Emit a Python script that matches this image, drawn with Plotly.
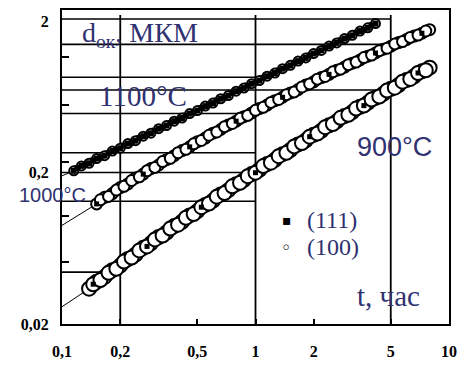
import plotly.graph_objects as go

# ---------------- data ----------------
# horizontal rules of the printed grid (thickness, um) and how far right they run (time, h)
GRID_D = [2.06, 1.40, 0.85, 0.70, 0.49, 0.27, 0.20, 0.129, 0.044]
GRID_T_END = [5, 5, 1, 5, 1, 1, 1, 1, 0.2]
# vertical rules (time, h)
GRID_T = [0.2, 1, 5]
GRID_D_TOP = 2.19

X_TICKS = [0.1, 0.2, 0.5, 1, 2, 5, 10]
X_TICKTEXT = ["0,1", "0,2", "0,5", "1", "2", "5", "10"]
Y_TICKS = [0.02, 0.2, 2]
Y_TICKTEXT = ["0,02", "0,2", "2"]
Y_MINOR = [0.051, 0.103, 0.234, 0.56, 1.16]

# ---- 1100 C ----
t_1100 = [0.115, 0.126, 0.138, 0.151, 0.166, 0.182, 0.200, 0.219, 0.240, 0.263,
          0.288, 0.316, 0.347, 0.380, 0.417, 0.457, 0.501, 0.550, 0.603, 0.661,
          0.724, 0.794, 0.871, 0.955, 1.047, 1.148, 1.259, 1.380, 1.514, 1.660,
          1.820, 1.995, 2.188, 2.399, 2.630, 2.884, 3.162, 3.467, 3.802, 4.169]
d_1100 = [0.205, 0.221, 0.230, 0.247, 0.258, 0.277, 0.289, 0.310, 0.324, 0.347,
          0.363, 0.389, 0.408, 0.436, 0.457, 0.489, 0.512, 0.548, 0.574, 0.613,
          0.643, 0.688, 0.721, 0.770, 0.808, 0.863, 0.906, 0.967, 1.018, 1.086,
          1.140, 1.218, 1.278, 1.364, 1.432, 1.530, 1.606, 1.714, 1.800, 1.920]
t_1100_111 = [0.120, 0.132, 0.145, 0.158, 0.174, 0.191, 0.209, 0.229, 0.251, 0.275,
              0.302, 0.331, 0.363, 0.398, 0.437, 0.479, 0.525, 0.575, 0.631, 0.692,
              0.759, 0.832, 0.912, 1.000, 1.096, 1.202, 1.318, 1.445, 1.585, 1.738,
              1.905, 2.089, 2.291, 2.512, 2.754, 3.020, 3.311, 3.631, 3.981]
d_1100_111 = [0.214, 0.224, 0.240, 0.251, 0.269, 0.281, 0.301, 0.316, 0.338, 0.354,
              0.378, 0.397, 0.424, 0.445, 0.475, 0.498, 0.533, 0.558, 0.597, 0.626,
              0.669, 0.702, 0.750, 0.787, 0.841, 0.882, 0.943, 0.989, 1.057, 1.109,
              1.185, 1.243, 1.328, 1.393, 1.489, 1.562, 1.669, 1.751, 1.871]

# ---- 1000 C ----
t_1000 = [0.151, 0.166, 0.182, 0.200, 0.219, 0.240, 0.263, 0.288, 0.316, 0.347,
          0.380, 0.417, 0.457, 0.501, 0.550, 0.603, 0.661, 0.724, 0.794, 0.871,
          0.955, 1.047, 1.148, 1.259, 1.380, 1.514, 1.660, 1.820, 1.995, 2.188,
          2.399, 2.630, 2.884, 3.162, 3.467, 3.802, 4.169, 4.571, 5.012, 5.495,
          6.026, 6.607, 7.244, 7.943]
d_1000 = [0.124, 0.137, 0.145, 0.159, 0.168, 0.184, 0.195, 0.212, 0.224, 0.243,
          0.258, 0.279, 0.295, 0.319, 0.337, 0.363, 0.384, 0.412, 0.436, 0.467,
          0.494, 0.528, 0.557, 0.595, 0.627, 0.669, 0.705, 0.754, 0.793, 0.846,
          0.888, 0.945, 0.992, 1.053, 1.104, 1.171, 1.228, 1.300, 1.362, 1.438,
          1.505, 1.588, 1.658, 1.750]
t_1000_b = [0.158, 0.174, 0.191, 0.209, 0.229, 0.251, 0.275, 0.302, 0.331, 0.363,
            0.398, 0.437, 0.479, 0.525, 0.575, 0.631, 0.692, 0.759, 0.832, 0.912,
            1.000, 1.096, 1.202, 1.318, 1.445, 1.585, 1.738, 1.905, 2.089, 2.291,
            2.512, 2.754, 3.020, 3.311, 3.631, 3.981, 4.365, 4.786, 5.248, 5.754,
            6.310, 6.918, 7.586]
d_1000_b = [0.132, 0.139, 0.153, 0.162, 0.177, 0.187, 0.205, 0.216, 0.236, 0.248,
            0.270, 0.284, 0.309, 0.325, 0.352, 0.370, 0.401, 0.421, 0.455, 0.476,
            0.514, 0.538, 0.580, 0.606, 0.652, 0.680, 0.733, 0.768, 0.825, 0.860,
            0.922, 0.961, 1.029, 1.070, 1.145, 1.190, 1.273, 1.321, 1.410, 1.461,
            1.557, 1.612, 1.715]

# ---- 900 C ----
t_900 = [0.138, 0.151, 0.166, 0.182, 0.200, 0.219, 0.240, 0.263, 0.288, 0.316,
         0.347, 0.380, 0.417, 0.457, 0.501, 0.550, 0.603, 0.661, 0.724, 0.794,
         0.871, 0.955, 1.047, 1.148, 1.259, 1.380, 1.514, 1.660, 1.820, 1.995,
         2.188, 2.399, 2.630, 2.884, 3.162, 3.467, 3.802, 4.169, 4.571, 5.012,
         5.495, 6.026, 6.607, 7.244, 7.943]
d_900 = [0.0342, 0.0380, 0.0409, 0.0453, 0.0486, 0.0537, 0.0575, 0.0636, 0.0681, 0.0750,
         0.0803, 0.0885, 0.0946, 0.1041, 0.1112, 0.1222, 0.1305, 0.1431, 0.1528, 0.1673,
         0.1785, 0.1952, 0.2083, 0.2272, 0.2422, 0.2640, 0.2812, 0.3060, 0.3260, 0.3542,
         0.3769, 0.4090, 0.4349, 0.4712, 0.5008, 0.5420, 0.5757, 0.6220, 0.6601, 0.7125,
         0.7554, 0.8140, 0.8624, 0.9290, 0.9830]
t_900_b = [0.145, 0.158, 0.174, 0.191, 0.209, 0.229, 0.251, 0.275, 0.302, 0.331,
           0.363, 0.398, 0.437, 0.479, 0.525, 0.575, 0.631, 0.692, 0.759, 0.832,
           0.912, 1.000, 1.096, 1.202, 1.318, 1.445, 1.585, 1.738, 1.905, 2.089,
           2.291, 2.512, 2.754, 3.020, 3.311, 3.631, 3.981, 4.365, 4.786, 5.248,
           5.754, 6.310, 6.918, 7.586]
d_900_b = [0.0366, 0.0390, 0.0435, 0.0463, 0.0516, 0.0549, 0.0612, 0.0650, 0.0723, 0.0767,
           0.0853, 0.0905, 0.1005, 0.1063, 0.1180, 0.1248, 0.1384, 0.1461, 0.1620, 0.1708,
           0.1890, 0.1993, 0.2203, 0.2319, 0.2562, 0.2693, 0.2972, 0.3123, 0.3443, 0.3612,
           0.3978, 0.4170, 0.4586, 0.4803, 0.5278, 0.5523, 0.6062, 0.6335, 0.6947, 0.7254,
           0.7945, 0.8286, 0.9067, 0.9450]

# thin fitted lines: start value at t = 0.1 h
FIT_T0 = 0.1
FIT_D0_1100 = 0.190
FIT_D0_1000 = 0.0895
FIT_D0_900 = 0.026

INK = "#2f3170"
SERIF = "Liberation Serif"
SANS = "Liberation Sans"

fig = go.Figure()

# grid rules
for dv, te in zip(GRID_D, GRID_T_END):
    fig.add_trace(go.Scatter(x=[0.1, te], y=[dv, dv], mode="lines",
                             line=dict(color="black", width=1.6),
                             showlegend=False, hoverinfo="skip"))
for tv in GRID_T:
    fig.add_trace(go.Scatter(x=[tv, tv], y=[0.02, GRID_D_TOP], mode="lines",
                             line=dict(color="black", width=1.8),
                             showlegend=False, hoverinfo="skip"))


def circles(t, d, size, lw):
    return go.Scatter(x=t, y=d, mode="markers", name="(100)", showlegend=False,
                      marker=dict(symbol="circle", size=size, color="white",
                                  line=dict(color="black", width=lw)))


def squares(t, d, size):
    return go.Scatter(x=t, y=d, mode="markers", name="(111)", showlegend=False,
                      marker=dict(symbol="square", size=size, color="black",
                                  line=dict(width=0)))


def fit(t, d, d0):
    return go.Scatter(x=[FIT_T0] + t, y=[d0] + d, mode="lines", showlegend=False,
                      line=dict(color="black", width=1), hoverinfo="skip")


# 1100 C: dense, mostly black
fig.add_trace(fit(t_1100, d_1100, FIT_D0_1100))
fig.add_trace(circles(t_1100, d_1100, 9, 2))
fig.add_trace(squares(t_1100, d_1100, 6))
fig.add_trace(squares(t_1100_111, d_1100_111, 6))

# 1000 C: chain of rings
fig.add_trace(fit(t_1000, d_1000, FIT_D0_1000))
fig.add_trace(circles(t_1000, d_1000, 11, 2))
fig.add_trace(circles(t_1000_b, d_1000_b, 11, 2))
fig.add_trace(squares(t_1000[::6], d_1000[::6], 5))

# 900 C: wide hatched band
fig.add_trace(fit(t_900, d_900, FIT_D0_900))
fig.add_trace(circles(t_900, d_900, 14, 2))
fig.add_trace(circles(t_900_b, d_900_b, 14, 2))
fig.add_trace(squares(t_900_b[::7], d_900_b[::7], 5))

annots = [
    dict(text="d<sub>ок</sub>, МКМ", x=0.047, y=0.921, font=dict(family=SERIF, size=28, color=INK)),
    dict(text="1100°C", x=0.091, y=0.726, font=dict(family=SERIF, size=29, color=INK)),
    dict(text="1000°C", x=-0.116, y=0.412, font=dict(family=SANS, size=20, color=INK)),
    dict(text="900°C", x=0.756, y=0.563, font=dict(family=SANS, size=27, color=INK)),
    dict(text="t, час", x=0.756, y=0.088, font=dict(family=SERIF, size=29, color=INK)),
    dict(text="(111)", x=0.628, y=0.331, font=dict(family=SERIF, size=24, color=INK)),
    dict(text="(100)", x=0.628, y=0.245, font=dict(family=SERIF, size=24, color=INK)),
]
for a in annots:
    fig.add_annotation(xref="paper", yref="paper", xanchor="left", yanchor="middle",
                       showarrow=False, **a)
# legend symbols
fig.add_annotation(xref="paper", yref="paper", x=0.582, y=0.331, xanchor="center",
                   yanchor="middle", showarrow=False, text="▪",
                   font=dict(family="DejaVu Sans", size=14, color="black"))
fig.add_annotation(xref="paper", yref="paper", x=0.580, y=0.245, xanchor="center",
                   yanchor="middle", showarrow=False, text="◦",
                   font=dict(family="DejaVu Sans", size=18, color="black"))

axis_font = dict(family=SERIF, size=16, color="black", weight="bold")
fig.update_layout(
    width=465, height=368,
    margin=dict(l=62, r=12, t=8, b=42),
    paper_bgcolor="white", plot_bgcolor="white",
    showlegend=False,
    xaxis=dict(type="log", range=[-1, 1], tickvals=X_TICKS, ticktext=X_TICKTEXT,
               ticks="inside", ticklen=5, tickwidth=2, tickcolor="black",
               showline=True, linewidth=2, linecolor="black", mirror=True,
               showgrid=False, zeroline=False, tickfont=axis_font,
               ticklabelstandoff=12),
    yaxis=dict(type="log", range=[-1.699, 0.373], tickvals=Y_TICKS, ticktext=Y_TICKTEXT,
               ticks="", showline=True, linewidth=2, linecolor="black", mirror=True,
               showgrid=False, zeroline=False, tickfont=axis_font,
               ticklabelstandoff=8,
               minor=dict(tickvals=Y_MINOR, ticks="inside", ticklen=7, tickwidth=2,
                          tickcolor="black", showgrid=False)),
)

fig.write_html("out.html")
